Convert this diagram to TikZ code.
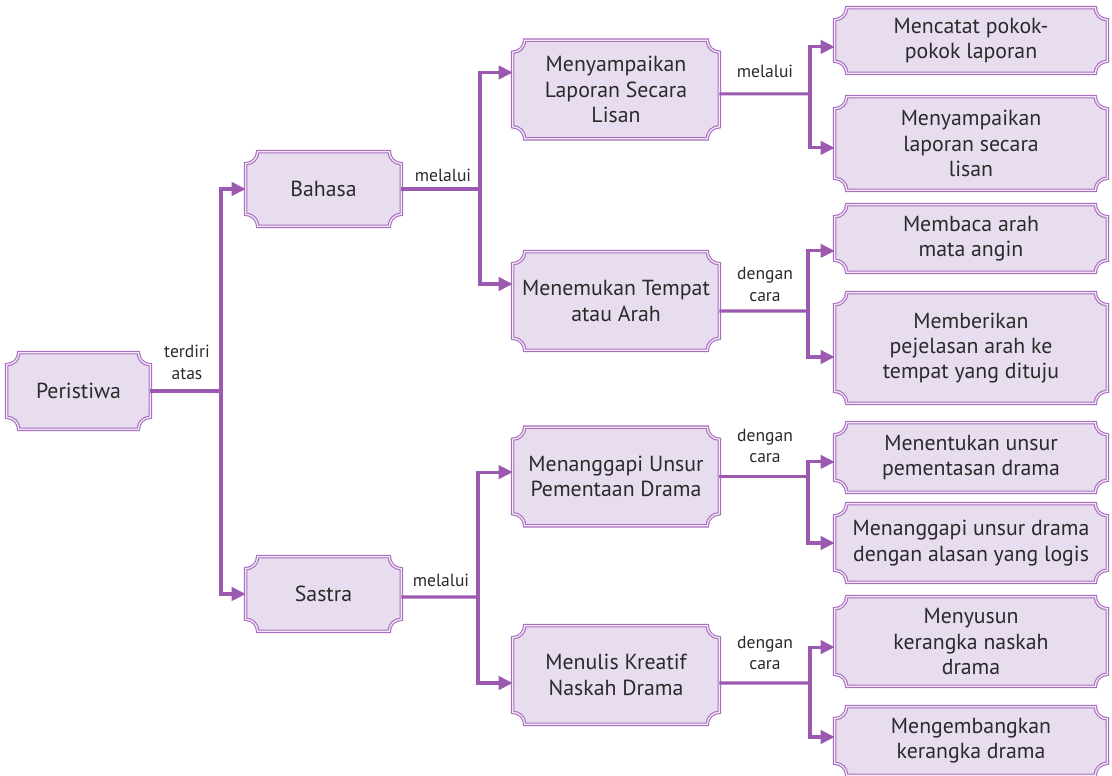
\documentclass[tikz,border=0pt]{standalone}
\usepackage{fontspec}
\setmainfont{PT Sans}
\usetikzlibrary{arrows.meta,backgrounds}

\definecolor{linepurple}{HTML}{9B59B0}
\definecolor{framepurple}{HTML}{A86FC0}
\definecolor{framegap}{HTML}{F3E9F6}
\definecolor{boxfill}{HTML}{E8DDEF}
\definecolor{txtgray}{HTML}{2A2A2A}

\tikzset{
  pbox/.style={align=center, inner sep=0pt, text=txtgray, font=\fontsize{15.5}{18}\selectfont},
  lbl/.style={align=center, inner sep=0pt, text=txtgray, font=\fontsize{12.5}{15.5}\selectfont},
  conn/.style={draw=linepurple, line width=2.2pt},
  arr/.style={conn, -{Triangle[length=10pt,width=9.5pt]}},
  frame/.style={draw=framepurple, line width=0.8pt, double=framegap, double distance=0.9pt, fill=boxfill},
}

\begin{document}
\begin{tikzpicture}[x=0.025cm, y=-0.025cm]
  \useasboundingbox (0,0) rectangle (1112,776);

  % left column
  \node[pbox, minimum width=3.575cm, minimum height=1.9cm] (peristiwa) at (78.5,391) {Peristiwa};
  \node[pbox, minimum width=3.875cm, minimum height=1.85cm] (bahasa) at (323.5,189) {Bahasa};
  \node[pbox, minimum width=3.875cm, minimum height=1.85cm] (sastra) at (323.5,594) {Sastra};

  % middle column
  \node[pbox, minimum width=5.15cm, minimum height=2.45cm] (lisan) at (616,89.5) {Menyampaikan\\Laporan Secara\\Lisan};
  \node[pbox, minimum width=5.15cm, minimum height=2.45cm] (tempat) at (616,301) {Menemukan Tempat\\atau Arah};
  \node[pbox, minimum width=5.15cm, minimum height=2.45cm] (unsur) at (616,476.5) {Menanggapi Unsur\\Pementaan Drama};
  \node[pbox, minimum width=5.15cm, minimum height=2.45cm] (naskah) at (616,675) {Menulis Kreatif\\Naskah Drama};

  % right column
  \node[pbox, minimum width=6.8cm, minimum height=1.625cm] (pokok) at (971,40.5) {Mencatat pokok-\\pokok laporan};
  \node[pbox, minimum width=6.8cm, minimum height=2.325cm] (sampai) at (971,143.5) {Menyampaikan\\laporan secara\\lisan};
  \node[pbox, minimum width=6.8cm, minimum height=1.675cm] (angin) at (971,238.5) {Membaca arah\\mata angin};
  \node[pbox, minimum width=6.8cm, minimum height=2.75cm] (arah) at (971,348) {Memberikan\\pejelasan arah ke\\tempat yang dituju};
  \node[pbox, minimum width=6.8cm, minimum height=1.725cm] (pentas) at (971,457.5) {Menentukan unsur\\pementasan drama};
  \node[pbox, minimum width=6.8cm, minimum height=1.95cm] (logis) at (971,543) {Menanggapi unsur drama\\dengan alasan yang logis};
  \node[pbox, minimum width=6.8cm, minimum height=2.225cm] (susun) at (971,641.5) {Menyusun\\kerangka naskah\\drama};
  \node[pbox, minimum width=6.8cm, minimum height=1.7cm] (kembang) at (971,741) {Mengembangkan\\kerangka drama};

  % frames with hollow corners
  \begin{scope}[on background layer]
    \def\r{0.3cm}
    \foreach \n in {peristiwa,bahasa,sastra,lisan,tempat,unsur,naskah,pokok,sampai,angin,arah,pentas,logis,susun,kembang}{
      \draw[frame] ([xshift=\r]\n.north west) -- ([xshift=-\r]\n.north east)
        arc[start angle=180, end angle=270, radius=\r] -- ([yshift=\r]\n.south east)
        arc[start angle=90, end angle=180, radius=\r] -- ([xshift=\r]\n.south west)
        arc[start angle=0, end angle=90, radius=\r] -- ([yshift=-\r]\n.north west)
        arc[start angle=270, end angle=360, radius=\r] -- cycle;
    }
  \end{scope}

  % labels
  \node[lbl] (terdiri) at (187,362) {terdiri\\atas};
  \node[lbl, anchor=base] (via1) at (443,181) {melalui};
  \node[lbl, anchor=base] (via2) at (441,586) {melalui};
  \node[lbl, anchor=base] (via3) at (765,77) {melalui};
  \node[lbl] (cara1) at (765,284.5) {dengan\\cara};
  \node[lbl] (cara2) at (765,446) {dengan\\cara};
  \node[lbl] (cara3) at (765,653) {dengan\\cara};

  % Peristiwa
  \coordinate (jp) at (221,391);
  \draw[conn] (peristiwa.east) -- (jp);
  \draw[arr] (jp) |- (bahasa.west);
  \draw[arr] (jp) |- (sastra.west);

  % Bahasa
  \coordinate (jb) at (480,189);
  \draw[conn] (bahasa.east) -- (jb);
  \draw[arr] (jb) |- ([yshift=0.425cm]lisan.west);
  \draw[arr] (jb) |- ([yshift=0.425cm]tempat.west);

  % Sastra
  \coordinate (js) at (478,597);
  \draw[conn] ([yshift=-0.075cm]sastra.east) -- (js);
  \draw[arr] (js) |- ([yshift=0.11cm]unsur.west);
  \draw[arr] (js) |- ([yshift=-0.2cm]naskah.west);

  % right branches
  \coordinate (jl) at (810,93.9);
  \draw[conn] ([yshift=-0.11cm]lisan.east) -- (jl);
  \draw[arr] (jl) |- ([yshift=-0.16cm]pokok.west);
  \draw[arr] (jl) |- ([yshift=-0.11cm]sampai.west);

  \coordinate (jt) at (808,311);
  \draw[conn] ([yshift=-0.25cm]tempat.east) -- (jt);
  \draw[arr] (jt) |- ([yshift=-0.31cm]angin.west);
  \draw[arr] (jt) |- ([yshift=-0.225cm]arah.west);

  \coordinate (ju) at (808,476.5);
  \draw[conn] (unsur.east) -- (ju);
  \draw[arr] (ju) |- ([yshift=-0.11cm]pentas.west);
  \draw[arr] (ju) |- (logis.west);

  \coordinate (jn) at (810,683);
  \draw[conn] ([yshift=-0.2cm]naskah.east) -- (jn);
  \draw[arr] (jn) |- ([yshift=-0.14cm]susun.west);
  \draw[arr] (jn) |- ([yshift=0.1cm]kembang.west);
\end{tikzpicture}
\end{document}
